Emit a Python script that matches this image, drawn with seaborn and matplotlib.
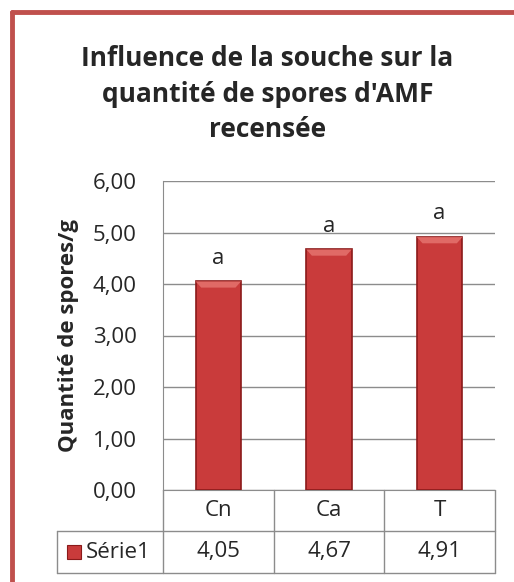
import matplotlib
matplotlib.use("Agg")
import matplotlib.pyplot as plt
import matplotlib.transforms as mtransforms
from matplotlib.lines import Line2D
from matplotlib.patches import Rectangle, Polygon
import seaborn as sns
import pandas as pd

# data
categories = ['Cn', 'Ca', 'T']
values = [4.05, 4.67, 4.91]
letters = ['a', 'a', 'a']
series_name = 'Série1'
yticks = [0, 1, 2, 3, 4, 5, 6]

sns.set_style("white")
plt.rcParams['font.family'] = ['Open Sans', 'DejaVu Sans']

bar_red = '#C93B3B'
edge_red = '#8B1A1A'
grid_grey = '#8C8C8C'

df = pd.DataFrame({'souche': categories, 'spores': values})

fig = plt.figure(figsize=(5.14, 5.82), dpi=100)
ax = fig.add_axes([163/514, 1 - 490/582, 332/514, 309/582])

sns.barplot(data=df, x='souche', y='spores', color=bar_red, width=0.41,
            edgecolor=edge_red, linewidth=1.2, saturation=1, ax=ax, zorder=3)

# bevel highlight on top of each bar
for p in ax.patches:
    x0, w, h = p.get_x(), p.get_width(), p.get_height()
    d = 0.12
    ax.add_patch(Polygon([(x0, h), (x0 + w, h), (x0 + w - 0.05, h - d), (x0 + 0.05, h - d)],
                         closed=True, facecolor='#E06A66', edgecolor='none', zorder=4))

ax.set_ylim(0, 6)
ax.set_xlim(-0.5, 2.5)
ax.set_yticks(yticks)
ax.set_yticklabels([f'{v:.2f}'.replace('.', ',') for v in yticks], fontsize=16)
ax.tick_params(axis='y', length=0, pad=19)
ax.set_xticks([])
ax.set_xlabel('')
ax.set_ylabel('Quantité de spores/g', fontsize=16, fontweight='bold', labelpad=10)
ax.yaxis.grid(True, color=grid_grey, lw=1, zorder=0)
for s in ['top', 'right']:
    ax.spines[s].set_visible(False)
ax.spines['left'].set_color(grid_grey)
ax.spines['bottom'].set_color(grid_grey)

# significance letters above the bars
for i, (v, l) in enumerate(zip(values, letters)):
    ax.text(i, v + 0.25, l, ha='center', va='bottom', fontsize=16)

# data table under the axis
tr = mtransforms.blended_transform_factory(ax.transData, ax.transAxes)
r1 = -41/309
r2 = -83/309
leg_left = -1.458
kw = dict(color=grid_grey, lw=1, clip_on=False)
for xv in [-0.5, 0.5, 1.5, 2.5]:
    ax.add_line(Line2D([xv, xv], [0, r2], transform=tr, **kw))
ax.add_line(Line2D([leg_left, 2.5], [r1, r1], transform=tr, **kw))
ax.add_line(Line2D([leg_left, 2.5], [r2, r2], transform=tr, **kw))
ax.add_line(Line2D([leg_left, leg_left], [r1, r2], transform=tr, **kw))
for i, (c, v) in enumerate(zip(categories, values)):
    ax.text(i, r1 / 2, c, transform=tr, ha='center', va='center', fontsize=16)
    ax.text(i, (r1 + r2) / 2, f'{v:.2f}'.replace('.', ','), transform=tr,
            ha='center', va='center', fontsize=16)
ax.add_patch(Rectangle((-1.37, (r1 + r2) / 2 - 0.024), 0.13, 0.048, transform=tr,
                       facecolor=bar_red, edgecolor=edge_red, lw=0.8, clip_on=False))
ax.text(-1.2, (r1 + r2) / 2, series_name, transform=tr, ha='left', va='center', fontsize=16)

fig.text(0.52, 1 - 94/582, "Influence de la souche sur la\nquantité de spores d'AMF\nrecensée",
         ha='center', va='center', fontsize=19, fontweight='bold', linespacing=1.42)

# red frame of the chart
fig.add_artist(Line2D([12/514, 12/514], [0, 1 - 12/582], color='#C0504D', lw=3.5,
                      transform=fig.transFigure))
fig.add_artist(Line2D([12/514, 1], [1 - 12/582, 1 - 12/582], color='#C0504D', lw=3.5,
                      transform=fig.transFigure))

fig.savefig('out.png', dpi=100)
